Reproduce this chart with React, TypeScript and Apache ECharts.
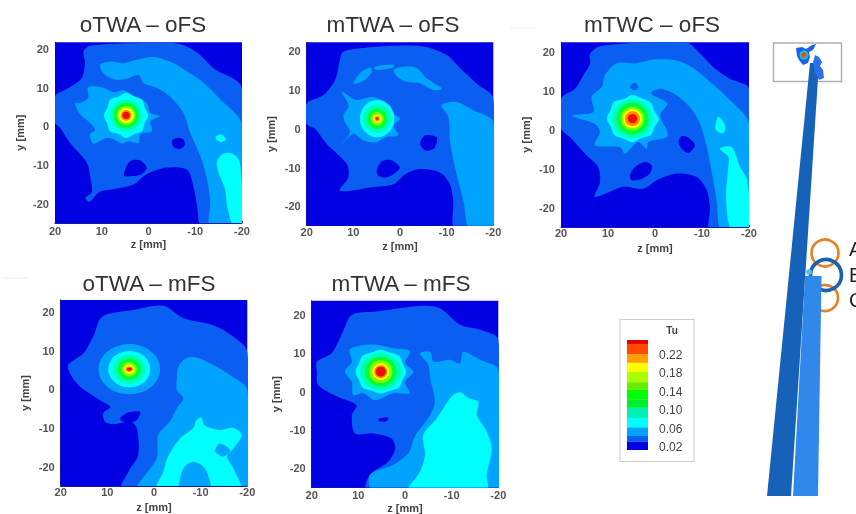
import React, { useEffect, useRef } from "react";
import * as echarts from "echarts";

type Pt = number[];
const levelColors = ["#0000e2", "#0a5ff2", "#00a4ff", "#00ffff", "#00ffb4", "#00ff38", "#84ff00", "#ffff00", "#ff8c00", "#f01000"];
const fullDomain: Pt[] = [[20, -26], [-20, -26], [-20, 26], [20, 26]];

// ---------- oTWA – oFS
const p1Mid: Pt[] = [[20,7.7],[17.5,9.6],[14.3,12.4],[13.6,16.7],[13.9,19.3],[12.5,20.8],[1.8,21.5],[-5.4,21.5],[-8.2,20.6],[-11,18.5],[-13.9,15],[-20,9.9],[-20,-26],[-11.4,-26],[-10.4,-20.6],[-9.6,-15.5],[-8.2,-11.2],[-3.9,-10.7],[0.4,-12.4],[3.2,-15],[7.5,-16.3],[10.5,-17],[12.6,-19.5],[13.5,-18.5],[12.1,-17],[12.5,-12.9],[13.2,-9.4],[16.8,-4.3],[18.9,-0.4],[20,0.9]];
const p1HoleA: Pt[] = [[-5.3,-3.4],[-6.4,-3],[-7.5,-3.5],[-7.8,-4.5],[-7.4,-5.5],[-6.4,-5.9],[-5.4,-5.4],[-5,-4.5]];
const p1HoleB: Pt[] = [[5,-11.2],[3.9,-9],[1.8,-8.8],[0.4,-10.7],[1.4,-12.4],[3.6,-12.9],[5.2,-12.9]];
const p1Arc: Pt[] = [[10.4,15.9],[8.2,16.7],[5.4,16.3],[2.5,17.2],[-1.1,17.9],[-5.4,16.3],[-8.2,14.2],[-11.8,11.2],[-15.4,6.9],[-20,0.4],[-20,-26],[-13.2,-26],[-13.2,-19.7],[-12.5,-13.7],[-11.1,-7.7],[-8.9,-1.7],[-7.5,3.4],[-4.6,7.7],[-1.8,9.9],[1.1,11.2],[2.1,13.3],[4.3,12.4],[6.8,12],[9.3,13.3]];
const p1Star: Pt[] = [[15.7,6],[14.6,6],[12.9,7.3],[12.9,10.1],[10,10.1],[7.5,8.8],[5.4,9.3],[2.9,7.7],[0.4,6],[-0.4,3.4],[-2.4,2.6],[-0.4,1.3],[-0.7,-1.3],[1.8,-2.1],[2.1,-4.3],[4.3,-3.9],[5.7,-4.5],[7.5,-3.4],[8.9,-3],[11.8,-4.5],[12.5,-2.1],[11.4,-0.9],[12.9,1.3],[14.6,3]];
const p1Cyan: Pt[] = [[-14.6,-9.4],[-15.7,-7.3],[-17.5,-6.9],[-19.3,-8.6],[-20,-15.5],[-20,-26],[-18.2,-26],[-16.8,-20.6],[-16.4,-16.3],[-15,-12]];
const p1CyanSmall: Pt[] = [[-14.3,-3],[-15.4,-2.1],[-16.6,-3.4],[-15.4,-4.1]];
const p1Center: Pt = [4.8, 2.8];
const p1Rings = [[3,4.4,5.3],[4,3.4,4.1],[5,2.7,3.3],[6,2,2.4],[7,1.6,1.9],[8,1.1,1.4],[9,0.8,0.95]];
const p1Spikes = [1.08,0.98,1.1,0.98,1.1,1,1.1,0.98,1.08,0.98,1.1,1,1.1,0.98,1.1,1];

// ---------- mTWA – oFS
const p2Mid: Pt[] = [[20,6.5],[16.4,8.7],[13.9,12.6],[12.9,17.7],[12.1,19.9],[6.4,21],[1.4,21.4],[-5,21.2],[-10,19],[-12.9,15.6],[-16.4,11.7],[-20,7.8],[-20,-26],[-11.8,-26],[-11.4,-18.6],[-10.7,-14.3],[-8.6,-11.3],[-4.3,-10.4],[-1.1,-11.7],[1.4,-14.3],[5.7,-15],[12.9,-16],[11.1,-12.6],[11.4,-9.1],[15.7,-3.9],[18.2,0],[20,1.3]];
const p2HoleA: Pt[] = [[5,-10.8],[3.9,-8.4],[1.8,-8.1],[0,-10],[1.4,-11.7],[3.2,-12.6],[4.6,-12.1]];
const p2HoleB: Pt[] = [[-4.3,-3.9],[-5.4,-1.7],[-7.9,-2.2],[-7.5,-4.8],[-6.4,-5.6],[-5.4,-5.6]];
const p2PatchA: Pt[] = [[10,11.7],[8.6,14.3],[6.4,15.8],[6,14.7],[7.5,12.6],[9.3,11.7]];
const p2PatchB: Pt[] = [[5.4,16],[1.4,16.5],[1.4,15.8],[5.4,15.2]];
const p2PatchC: Pt[] = [[1.4,15.2],[-0.7,16],[-3.6,15.6],[-5.7,13],[-8.9,10.4],[-7.1,10],[-4.3,11.7],[-1.4,12.1],[0.4,13.2]];
const p2Right: Pt[] = [[-8.9,6.1],[-12.1,6.9],[-15.7,4.8],[-20,1.7],[-20,-26],[-15,-26],[-13.6,-18.6],[-11.8,-10],[-10.7,-3],[-10.4,3]];
const p2Star: Pt[] = [[12.1,3.5],[11,6],[12.5,9.5],[10.7,8.2],[9.3,7.4],[6.1,8.2],[3.2,6.9],[1.4,3.9],[0,2.6],[1.4,0.9],[0.4,-1.7],[3.2,-2.2],[5,-3.5],[7.9,-3],[10,-1.3],[12.5,-3.9],[10.7,-0.9],[11.8,1.7]];
const p2Center: Pt = [4.9, 2.6];
const p2Rings = [[3,3.7,4.8],[4,3,3.6],[5,2.1,2.6],[6,1.4,1.7],[7,0.9,1],[8,0.55,0.7],[9,0.3,0.35]];

// ---------- mTWC – oFS
const p3Mid: Pt[] = [[20,8],[17,10.5],[15.2,14],[13.8,17],[13.8,19.5],[11.7,21.4],[1.1,22.4],[-6.7,22.4],[-9.6,19.5],[-12.4,16],[-16,13],[-20,10.5],[-20,-26],[-11.7,-26],[-11.7,-20],[-11,-15.6],[-8.9,-12.2],[-4.6,-11.3],[-0.4,-13],[2.5,-15.2],[6.7,-14.7],[12.8,-17.3],[11.7,-13.5],[12.1,-9.6],[14.9,-6.2],[18.1,-1.9],[20,0.3]];
const p3HoleA: Pt[] = [[5.3,-11.7],[4.3,-9.6],[2.1,-8.3],[0.7,-9.2],[1.1,-11.3],[2.8,-12.6],[5,-13]];
const p3HoleB: Pt[] = [[-5,-3.2],[-5.7,-1.7],[-7.1,-2.1],[-8.5,-4],[-7.1,-6],[-5.7,-4.9]];
const p3HoleC: Pt[] = [[5.3,11],[4.3,12],[3.5,10.8],[4.6,10.1]];
const p3Wide: Pt[] = [[17.4,3.7],[13.1,4.5],[13.5,8.4],[11.3,11],[10.6,14],[8.2,17],[3.9,17],[0.4,18],[-4.6,17.7],[-8.2,15.7],[-11.7,12.3],[-15.2,8.4],[-20,1.5],[-20,-26],[-14.2,-26],[-13.1,-18.2],[-12.4,-13],[-11,-4.5],[-9.6,1.5],[-7.4,5.8],[-3.9,9.3],[-1.1,10.5],[0.9,9.3],[-2.6,6.7],[-1.1,3.7],[-2.6,-0.6],[-2.6,-1.9],[1.4,-3.2],[1.8,-4.9],[3.6,-3.2],[6.4,-6.2],[7.4,-4.5],[12.8,-4],[11.7,-0.6],[12.8,1.5],[17.4,3.3]];
const p3Cyan: Pt[] = [[-13.8,-4.9],[-16.3,-4.5],[-18.1,-9.6],[-19.6,-13],[-20,-26],[-16.3,-26],[-15.1,-17.3],[-15.6,-9.6],[-15.6,-7]];
const p3CyanSmall: Pt[] = [[-12.8,0.7],[-13.5,3.3],[-14.9,1],[-14.5,-1],[-13.1,-0.3]];
const p3Center: Pt = [4.8, 2.8];
const p3Rings = [[3,5.2,5.6],[4,4.3,5],[5,3.4,4.1],[6,2.5,3],[7,2,2.4],[8,1.6,1.9],[9,1,1.2]];
const p3Spikes = [1.05,0.98,1.08,0.96,1.08,1,1.05,0.96,1.08,0.98,1.06,0.96,1.08,0.98,1.06,0.96];

// ---------- oTWA – mFS
const p4Mid: Pt[] = [[18.4,6.3],[15.1,9.3],[12.9,14],[11.1,18.8],[4.4,20.5],[-2,21.6],[-6.3,18.4],[-12.7,16.6],[-17,13.6],[-20,9.7],[-20,-26],[6.9,-26],[5.5,-21.3],[3.4,-17],[3.7,-10],[5.1,-8.4],[8.7,-9],[10.5,-8.4],[10.9,-6.2],[9.4,-4.5],[11.6,-2.8],[15.9,0.7],[18,4.1]];
const p4Hole: Pt[] = [[7.3,-7.5],[5.5,-6],[3,-5.8],[3.4,-7.5],[4.4,-8.5],[6.6,-8.4]];
const p4Right: Pt[] = [[-4.9,2.8],[-5.1,5.4],[-6.3,7.6],[-8.4,8.4],[-12.7,6.3],[-16.3,3.7],[-20,-0.2],[-20,-26],[3.4,-26],[-0.6,-17.8],[-0.9,-11.8],[-3.4,-8.4],[-4.9,-4.9],[-6.3,-2.3],[-4.9,-0.2]];
const p4Cyan: Pt[] = [[-0.6,-26],[-2,-21.3],[-3,-17.4],[-5.6,-12.7],[-8.4,-10],[-9.1,-7.9],[-10.2,-7.3],[-10.7,-9.2],[-14.1,-10.5],[-17,-10],[-18.8,-11.8],[-17,-15.3],[-15.6,-17.4],[-17,-20.4],[-18.4,-26]];
const p4GapA: Pt[] = [[-5.6,-26],[-6.3,-20.4],[-8.4,-18.7],[-10.9,-20.4],[-12,-26]];
const p4GapB: Pt[] = [[-13.1,-16.1],[-14.1,-14],[-16.3,-15.7],[-14.9,-17.4]];
const p4Center: Pt = [5.3, 5.2];
const p4Rings = [[2,6.6,6.5],[3,4.5,4.7],[4,3.4,3.8],[5,2.5,2.8],[6,1.6,1.8],[7,1.1,1.2],[8,0.8,0.7],[9,0.55,0.4]];

// ---------- mTWA – mFS
const p5Mid: Pt[] = [[18.9,7.8],[15.7,10],[13.6,14.8],[11.4,20],[6.1,20.9],[-3.9,22.4],[-7.5,21.7],[-11.8,17.4],[-16.1,16.1],[-20,13.5],[-20,-26],[8.2,-26],[7.5,-21.7],[3.6,-18.3],[2.1,-14.8],[2.9,-12.2],[6.8,-10.9],[10.7,-10.9],[11.4,-6.1],[10.4,-3.5],[14.6,-1.3],[18.6,1.7],[18.9,5.2]];
const p5Hole: Pt[] = [[5.7,-7.1],[3.6,-6.8],[3.9,-7.7],[5.5,-7.7]];
const p5Right: Pt[] = [[-3.2,10],[-5.4,10.3],[-6.1,7.8],[-9.6,8.3],[-11.8,7.4],[-12.5,10.4],[-16.1,8.3],[-20,5.7],[-20,-26],[6.8,-26],[7.5,-21.7],[2.5,-19.1],[-0.7,-16.1],[-2.1,-11.7],[-5.4,-6.1],[-6.4,-2.6],[-5.4,3.5],[-5,7]];
const p5Star: Pt[] = [[12.9,5.2],[11.4,7.8],[11.8,11.1],[6.8,12.3],[2.5,11.3],[-1.1,10.6],[0,7.4],[-1.8,5.2],[0,2.6],[-1,-0.4],[2.5,-0.4],[6.4,-2.2],[8.9,-0.4],[11.1,-0.9],[11.4,2.6]];
const p5Cyan: Pt[] = [[-0.7,-26],[-3.2,-20.9],[-4.3,-16.5],[-3.9,-11.3],[-6.8,-7],[-10,-1.3],[-11.8,-0.2],[-13.6,-1.7],[-15.7,-2.6],[-15.4,-6.1],[-17.5,-10.4],[-18.6,-14.8],[-17.5,-21.7],[-17.5,-26]];
const p5Center: Pt = [5.2, 5.2];
const p5Rings = [[3,5.2,5.5],[4,4.4,4.9],[5,3.4,3.9],[6,2.5,3],[7,1.8,2.1],[8,1.4,1.7],[9,1.1,1.3]];
const p5Spikes = [1.04,0.98,1.06,0.98,1.04,0.98,1.06,0.98,1.04,0.98,1.06,0.98,1.04,0.98,1.06,0.98];

// ---------- axes and legend
const zTicks = [-20, -10, 0, 10, 20];
const yTicks = [-20, -10, 0, 10, 20];
const legendTicks = [0.02, 0.06, 0.1, 0.14, 0.18, 0.22];
const legendBands = [
  [0.01, 0.031, "#0000e2"], [0.031, 0.044, "#0a5ff2"], [0.044, 0.063, "#00a4ff"], [0.063, 0.083, "#00ffff"],
  [0.083, 0.105, "#00f0b4"], [0.105, 0.124, "#00ee30"], [0.124, 0.144, "#00ff00"], [0.144, 0.161, "#60f000"],
  [0.161, 0.183, "#a8ff00"], [0.183, 0.203, "#ffff00"], [0.203, 0.222, "#ffa000"], [0.222, 0.244, "#ff4a00"], [0.244, 0.27, "#e00000"],
];

function ring(center: Pt, rz: number, ry: number, spikes?: number[]): Pt[] {
  const n = spikes ? spikes.length : 24;
  const pts: Pt[] = [];
  for (let i = 0; i < n; i++) {
    const a = (i / n) * Math.PI * 2;
    const k = spikes ? spikes[i] : 1;
    pts.push([center[0] + Math.cos(a) * rz * k, center[1] + Math.sin(a) * ry * k]);
  }
  return pts;
}
function peak(center: Pt, rings: number[][], spikes?: number[]) {
  return rings.map((r) => ({ level: r[0], points: ring(center, r[1], r[2], r[0] === 3 ? spikes : undefined) }));
}
const L = (level: number, points: Pt[]) => ({ level, points });

const panels = [
  { title: "oTWA – oFS", tx: 143, ty: 25, left: 55, top: 42.3, w: 187, h: 180.6, yMax: 21.7, tickGap: 3, nameGap: 16,
    layers: [L(0, fullDomain), L(1, p1Mid), L(0, p1HoleA), L(0, p1HoleB), L(2, p1Arc), L(2, p1Star), L(3, p1Cyan), L(3, p1CyanSmall), ...peak(p1Center, p1Rings, p1Spikes)] },
  { title: "mTWA – oFS", tx: 393, ty: 25, left: 306.7, top: 42.3, w: 186.6, h: 183.4, yMax: 22.3, tickGap: 1, nameGap: 14.5,
    layers: [L(0, fullDomain), L(1, p2Mid), L(0, p2HoleA), L(0, p2HoleB), L(2, p2PatchA), L(2, p2PatchB), L(2, p2PatchC), L(2, p2Right), L(2, p2Star), ...peak(p2Center, p2Rings)] },
  { title: "mTWC – oFS", tx: 652, ty: 25, left: 561, top: 42.3, w: 188, h: 184.7, yMax: 22.4, tickGap: 0.5, nameGap: 15.5,
    layers: [L(0, fullDomain), L(1, p3Mid), L(0, p3HoleA), L(0, p3HoleB), L(2, p3Wide), L(1, p3HoleC), L(3, p3Cyan), L(3, p3CyanSmall), ...peak(p3Center, p3Rings, p3Spikes)] },
  { title: "oTWA – mFS", tx: 149, ty: 284, left: 60.7, top: 300, w: 186.6, h: 186, yMax: 23.1, tickGap: 0.5, nameGap: 15,
    layers: [L(0, fullDomain), L(1, p4Mid), L(0, p4Hole), L(2, p4Right), L(3, p4Cyan), L(2, p4GapA), L(2, p4GapB), ...peak(p4Center, p4Rings)] },
  { title: "mTWA – mFS", tx: 401, ty: 284, left: 311.7, top: 300.7, w: 186.6, h: 187, yMax: 23.7, tickGap: 2, nameGap: 14.5,
    layers: [L(0, fullDomain), L(1, p5Mid), L(0, p5Hole), L(2, p5Right), L(2, p5Star), L(3, p5Cyan), ...peak(p5Center, p5Rings, p5Spikes)] },
];

const tickText = { color: "#555", fontFamily: "Liberation Sans", fontSize: 11, fontWeight: "bold" as const };

function buildOption() {
  const grid: any[] = panels.map((p) => ({ left: p.left, top: p.top, width: p.w, height: p.h, containLabel: false }));
  const xAxis: any[] = panels.map((p, i) => ({
    gridIndex: i, type: "value", min: -20, max: 20, inverse: true, name: "z [mm]", nameLocation: "middle", nameGap: p.nameGap,
    nameTextStyle: { color: "#444", fontFamily: "Liberation Sans", fontSize: 11, fontWeight: "bold" },
    axisLine: { show: true, onZero: false, lineStyle: { color: "#1818a0", width: 1 } },
    axisTick: { show: true, inside: true, length: 2, customValues: zTicks, lineStyle: { color: "#333" } },
    axisLabel: { ...tickText, margin: p.tickGap, customValues: zTicks, showMinLabel: true, showMaxLabel: true },
    splitLine: { show: false },
  }));
  const yAxis: any[] = panels.map((p, i) => ({
    gridIndex: i, type: "value", min: -25, max: p.yMax, name: "y [mm]", nameLocation: "middle", nameGap: 30, nameRotate: 90,
    nameTextStyle: { color: "#444", fontFamily: "Liberation Sans", fontSize: 11, fontWeight: "bold" },
    axisLine: { show: true, onZero: false, lineStyle: { color: "#1818a0", width: 1 } },
    axisTick: { show: true, inside: true, length: 2, customValues: yTicks, lineStyle: { color: "#333" } },
    axisLabel: { ...tickText, margin: 6, customValues: yTicks },
    splitLine: { show: false },
  }));
  const series: any[] = panels.map((p, i) => ({
    type: "custom", xAxisIndex: i, yAxisIndex: i, clip: true, silent: true,
    data: p.layers.map(() => [0, 0]),
    renderItem: (params: any, api: any) => {
      const layer = p.layers[params.dataIndex];
      return {
        type: "polygon",
        shape: { points: layer.points.map((q: Pt) => api.coord(q)), smooth: layer.points === fullDomain ? 0 : 0.3 },
        style: { fill: levelColors[layer.level] },
      };
    },
  }));

  // colour bar
  const k = panels.length;
  grid.push({ left: 627, top: 340, width: 21, height: 110 });
  xAxis.push({ type: "value", gridIndex: k, min: 0, max: 1, show: false });
  yAxis.push({
    type: "value", gridIndex: k, min: 0.0135, max: 0.2526, position: "right",
    axisLine: { show: false }, axisTick: { show: false }, splitLine: { show: false },
    axisLabel: { color: "#444", fontFamily: "Liberation Sans", fontSize: 12, margin: 11, customValues: legendTicks, formatter: (v: number) => v.toFixed(2) },
  });
  series.push({
    type: "custom", xAxisIndex: k, yAxisIndex: k, clip: true, silent: true,
    data: legendBands.map(() => [0, 0]),
    renderItem: (params: any, api: any) => {
      const b = legendBands[params.dataIndex];
      const a = api.coord([0, b[1]]);
      const c = api.coord([1, b[0]]);
      return { type: "rect", shape: { x: a[0], y: a[1], width: c[0] - a[0], height: c[1] - a[1] }, style: { fill: b[2] } };
    },
  });

  const orange = { fill: "transparent", stroke: "#e9801f", lineWidth: 2.6 };
  const graphic = [
    { type: "line", shape: { x1: 2, y1: 278, x2: 28, y2: 278 }, style: { stroke: "#eeeeee", lineWidth: 1 } },
    { type: "line", shape: { x1: 510, y1: 28, x2: 536, y2: 28 }, style: { stroke: "#eeeeee", lineWidth: 1 } },
    { type: "rect", shape: { x: 620, y: 319.5, width: 74, height: 142 }, style: { fill: "#fff", stroke: "#cfcfcf", lineWidth: 1.2 } },
    { type: "text", x: 672, y: 330, style: { text: "Tu", fill: "#444", font: "bold 10px 'Liberation Sans'", textAlign: "center", textVerticalAlign: "middle" } },
    { type: "rect", shape: { x: 773.5, y: 43, width: 68, height: 38.5 }, style: { fill: "#fff", stroke: "#b0b0b0", lineWidth: 1.4 } },
    { type: "polygon", shape: { points: [[810, 63], [819, 63], [791, 496], [767, 496]] }, style: { fill: "#1562b8" } },
    { type: "polygon", shape: { points: [[796, 48], [802, 47], [806, 49], [812, 45], [816, 44], [813, 50], [809, 52], [810, 57], [808, 63], [803, 65], [799, 60], [797, 56]] }, style: { fill: "#1a5ff0" } },
    { type: "polygon", shape: { points: [[815, 55], [819, 57], [822, 62], [820, 66], [823, 70], [824, 78], [819, 80], [815, 72], [813, 62]] }, style: { fill: "#2a6ff0" } },
    { type: "circle", shape: { cx: 804, cy: 55, r: 4.5 }, style: { fill: "#20c0c0" } },
    { type: "circle", shape: { cx: 804, cy: 55, r: 2.6 }, style: { fill: "#e0501a" } },
    { type: "circle", shape: { cx: 825, cy: 253, r: 13.5 }, style: orange },
    { type: "circle", shape: { cx: 825, cy: 298, r: 13 }, style: orange },
    { type: "circle", shape: { cx: 826, cy: 275, r: 15.5 }, style: { fill: "transparent", stroke: "#1a62b0", lineWidth: 3.6 } },
    { type: "polygon", shape: { points: [[805, 276], [821.5, 276], [818, 496], [793, 496]] }, style: { fill: "#2f88ea" } },
    { type: "circle", shape: { cx: 809, cy: 272, r: 3 }, style: { fill: "#58c0f0" } },
    { type: "text", x: 849, y: 249, style: { text: "A", fill: "#222", font: "20px 'Liberation Sans'", textVerticalAlign: "middle" } },
    { type: "text", x: 849, y: 275, style: { text: "B", fill: "#222", font: "20px 'Liberation Sans'", textVerticalAlign: "middle" } },
    { type: "text", x: 849, y: 300, style: { text: "C", fill: "#222", font: "20px 'Liberation Sans'", textVerticalAlign: "middle" } },
  ];

  const title = panels.map((p) => ({
    text: p.title, left: p.tx, top: p.ty - 12, textAlign: "center",
    textStyle: { color: "#333", fontFamily: "Liberation Sans", fontSize: 22.5, fontWeight: "normal" },
    padding: 0,
  }));

  return { animation: false, backgroundColor: "#fff", title, grid, xAxis, yAxis, series, graphic };
}

export default function App() {
  const ref = useRef<HTMLDivElement>(null);
  useEffect(() => {
    const chart = echarts.init(ref.current!, undefined, { renderer: "svg" });
    chart.setOption(buildOption() as any);
    return () => chart.dispose();
  }, []);
  return (
    <div style={{ position: "fixed", left: 0, top: 0, width: 856, height: 514, overflow: "hidden", background: "#fff" }}>
      <div ref={ref} style={{ width: 856, height: 514, filter: "blur(0.6px)" }} />
    </div>
  );
}
